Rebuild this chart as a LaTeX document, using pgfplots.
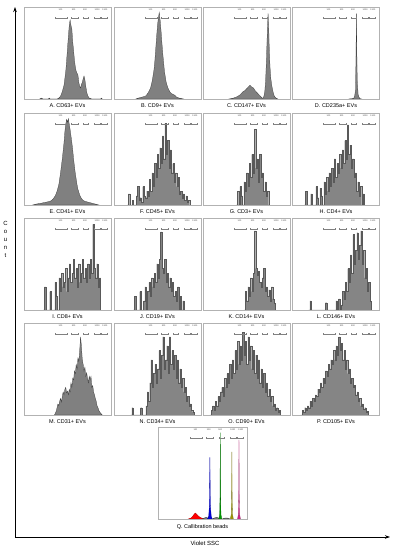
\documentclass[border=0pt]{standalone}
\usepackage{pgfplots}
\pgfplotsset{compat=1.18}
\usepackage{fontspec}
\setmainfont{Liberation Sans}
\usetikzlibrary{arrows.meta}
\pgfplotsset{
 panel/.style={width=87pt,height=92pt,scale only axis,xmin=0,xmax=100,ymin=0,ymax=100,
   ticks=none,axis line style={gray!60,line width=0.6pt},anchor=north west},
 hist/.style={fill=black!50,draw=black!80,line width=0.25pt,mark=none},
 spk/.style={fill=black!48,draw=black!65,line width=0.2pt,mark=none,const plot},
 bead/.style={fill=#1,draw=#1!70!black,line width=0.3pt,mark=none}
}
\newcommand{\gl}{\fontsize{2.2}{2.2}\selectfont}
\newcommand{\ttl}{\fontsize{5.5}{6}\selectfont}
\tikzset{gate/.style={black!50,line width=0.25pt,{Bar[width=1.2pt]}-{Bar[width=1.2pt]}}}
\newcommand{\gates}{%
 \draw[gate] (axis cs:36,88) -- (axis cs:50,88);
 \draw[gate] (axis cs:54,88) -- (axis cs:62,88);
 \draw[gate] (axis cs:68,88) -- (axis cs:74,88);
 \draw[gate] (axis cs:81,88) -- (axis cs:88,88);
 \draw[gate] (axis cs:89,88) -- (axis cs:96,88);
 \node[font=\gl,black!70] at (axis cs:42,97) {100};
 \node[font=\gl,black!70] at (axis cs:57,97) {300};
 \node[font=\gl,black!70] at (axis cs:70,97) {500};
 \node[font=\gl,black!70] at (axis cs:84,97) {1000};
 \node[font=\gl,black!70] at (axis cs:93,97) {1300};
}
\begin{document}
\begin{tikzpicture}
\path[use as bounding box] (0pt,0pt) rectangle (394pt,550pt);
% big axes
\draw[line width=0.8pt,-{Stealth[length=5pt,width=3.5pt]}] (15pt,13pt) -- (15pt,543pt);
\draw[line width=0.8pt,-{Stealth[length=5pt,width=3.5pt]}] (15pt,13pt) -- (390pt,13pt);
\node[font=\fontsize{6}{8}\selectfont,align=center] at (5.5pt,311pt) {C\\o\\u\\n\\t};
\node[font=\fontsize{6}{7}\selectfont] at (205pt,7pt) {Violet SSC};

% ---------- Row 1 ----------
\begin{axis}[panel,at={(24pt,543pt)}]
\addplot[hist] coordinates {(18,0)(20,1)(22,0)(28,0)(29,1)(30,0)(38,0)(40,1)(42,3)(44,8)(46,15)(48,30)(49,42)(50,55)(51,68)(52,80)(53,86)(54,80)(55,76)(56,62)(57,53)(58,42)(59,35)(60,30)(61,28)(62,26)(63,18)(64,14)(65,12)(66,16)(67,18)(68,22)(69,25)(70,21)(71,14)(72,8)(73,4)(75,1)(78,0)(88,0)(89,1)(90,0)} \closedcycle;
\gates
\end{axis}
\node[font=\ttl] at (67.5pt,444.5pt) {A. CD63+ EVs};

\begin{axis}[panel,at={(114pt,543pt)}]
\addplot[hist] coordinates {(25,0)(28,1)(32,2)(36,3)(38,5)(40,8)(42,12)(44,20)(46,32)(47,42)(48,55)(49,68)(50,80)(51,88)(52,94)(53,86)(54,75)(55,62)(56,50)(57,40)(58,30)(59,24)(60,18)(62,12)(64,8)(66,6)(68,5)(70,4)(72,2)(75,1)(80,0)} \closedcycle;
\gates
\end{axis}
\node[font=\ttl] at (157.5pt,444.5pt) {B. CD9+ EVs};

\begin{axis}[panel,at={(203pt,543pt)}]
\addplot[hist] coordinates {(30,0)(35,1)(38,2)(40,3)(42,4)(44,6)(46,8)(48,9)(50,11)(52,13)(54,15)(55,14)(56,13)(58,12)(60,9)(62,7)(64,5)(66,3)(67,2)(68,1)(69,1)(70,3)(71,8)(72,20)(73,45)(74,75)(74.8,93)(75.5,80)(76,60)(77,35)(78,22)(79,15)(80,10)(81,6)(82,3)(84,1)(86,0)} \closedcycle;
\gates
\end{axis}
\node[font=\ttl] at (246.5pt,444.5pt) {C. CD147+ EVs};

\begin{axis}[panel,at={(292pt,543pt)}]
\addplot[hist] coordinates {(65,0)(70,0.5)(71,1)(72,3)(73,10)(73.5,40)(74,93)(74.5,50)(75,20)(76,5)(77,2)(78,0.5)(80,0)} \closedcycle;
\gates
\end{axis}
\node[font=\ttl] at (336pt,444.5pt) {D. CD235a+ EVs};

% ---------- Row 2 ----------
\begin{axis}[panel,at={(24pt,437pt)}]
\addplot[hist] coordinates {(10,0)(14,1)(20,2)(25,3)(30,4)(33,6)(36,10)(38,15)(40,22)(42,35)(44,50)(46,68)(47,80)(48,88)(49,93)(50,90)(51,94)(52,88)(53,82)(54,75)(55,68)(56,60)(57,50)(58,42)(59,34)(60,28)(61,22)(62,17)(64,11)(66,7)(68,5)(70,4)(74,3)(78,2)(82,1)(86,0)} \closedcycle;
\gates
\end{axis}
\node[font=\ttl] at (67.5pt,338.5pt) {E. CD41+ EVs};

\begin{axis}[panel,at={(114pt,437pt)}]
\addplot[spk] coordinates {(15,0)(16.5,12)(18,0)(19.5,0)(21,5)(22.5,0)(24,0)(25.5,10)(27,20)(28.5,5)(30,8)(31.5,3)(33,20)(34.5,10)(36,8)(37.5,15)(39,10)(40.5,28)(42,15)(43.5,35)(45,20)(46.5,45)(48,30)(49.5,55)(51,40)(52.5,62)(54,45)(55.5,75)(57,50)(58.5,89)(60,55)(61.5,70)(63,40)(64.5,60)(66,35)(67.5,45)(69,25)(70.5,35)(72,20)(73.5,30)(75,12)(76.5,15)(78,8)(79.5,12)(81,5)(82.5,10)(84,3)(85.5,5)(87,0)} \closedcycle;
\gates
\end{axis}
\node[font=\ttl] at (157.5pt,338.5pt) {F. CD45+ EVs};

\begin{axis}[panel,at={(203pt,437pt)}]
\addplot[spk] coordinates {(38,0)(39.5,15)(41,0)(42.5,20)(44,10)(45.5,0)(47,25)(48.5,15)(50,35)(51.5,20)(53,45)(54.5,30)(56,55)(57.5,35)(59,82)(60.5,40)(62,50)(63.5,25)(65,55)(66.5,30)(68,35)(69.5,15)(71,25)(72.5,10)(74,15)(75.5,0)(77,0)} \closedcycle;
\gates
\end{axis}
\node[font=\ttl] at (246.5pt,338.5pt) {G. CD3+ EVs};

\begin{axis}[panel,at={(292pt,437pt)}]
\addplot[spk] coordinates {(14,0)(15.5,15)(17,0)(20,0)(21.5,12)(23,0)(26,0)(27.5,20)(29,8)(30.5,0)(32,18)(33.5,10)(35,0)(36.5,25)(38,12)(39.5,30)(41,15)(42.5,35)(44,20)(45.5,40)(47,25)(48.5,50)(50,30)(51.5,45)(53,35)(54.5,55)(56,40)(57.5,60)(59,45)(60.5,70)(62,50)(63.5,87)(65,55)(66.5,65)(68,40)(69.5,50)(71,30)(72.5,35)(74,15)(75.5,25)(77,10)(78.5,20)(80,0)(81.5,12)(83,0)} \closedcycle;
\gates
\end{axis}
\node[font=\ttl] at (336pt,338.5pt) {H. CD4+ EVs};

% ---------- Row 3 ----------
\begin{axis}[panel,at={(24pt,332pt)}]
\addplot[spk] coordinates {(22,0)(23.5,25)(25,0)(28,0)(29.5,20)(31,0)(34,0)(35.5,30)(37,15)(38.5,0)(40,35)(41.5,20)(43,40)(44.5,25)(46,30)(47.5,45)(49,20)(50.5,35)(52,50)(53.5,30)(55,40)(56.5,55)(58,35)(59.5,45)(61,25)(62.5,50)(64,30)(65.5,40)(67,55)(68.5,35)(70,45)(71.5,30)(73,50)(74.5,35)(76,55)(77.5,40)(79,93)(80.5,45)(82,35)(83.5,50)(85,25)(86.5,35)(88,0)} \closedcycle;
\gates
\end{axis}
\node[font=\ttl] at (67.5pt,233.5pt) {I. CD8+ EVs};

\begin{axis}[panel,at={(114pt,332pt)}]
\addplot[spk] coordinates {(22,0)(23.5,15)(25,0)(28,0)(29.5,20)(31,0)(34,10)(35.5,25)(37,0)(38.5,20)(40,30)(41.5,15)(43,35)(44.5,25)(46,40)(47.5,30)(49,50)(50.5,35)(52,55)(53.5,85)(55,45)(56.5,40)(58,55)(59.5,30)(61,40)(62.5,25)(64,35)(65.5,20)(67,30)(68.5,15)(70,20)(71.5,10)(73,25)(74.5,0)(76,15)(77.5,0)(79,10)(80.5,0)} \closedcycle;
\gates
\end{axis}
\node[font=\ttl] at (157.5pt,233.5pt) {J. CD19+ EVs};

\begin{axis}[panel,at={(203pt,332pt)}]
\addplot[spk] coordinates {(47,0)(48.5,20)(50,10)(51.5,25)(53,15)(54.5,35)(56,20)(57.5,40)(59,86)(60.5,45)(62,38)(63.5,42)(65,30)(66.5,25)(68,35)(69.5,45)(71,20)(72.5,25)(74,15)(75.5,22)(77,10)(78.5,25)(80,12)(81.5,8)(83,0)} \closedcycle;
\gates
\end{axis}
\node[font=\ttl] at (246.5pt,233.5pt) {K. CD14+ EVs};

\begin{axis}[panel,at={(292pt,332pt)}]
\addplot[spk] coordinates {(19,0)(20.5,10)(22,0)(37,0)(38.5,8)(40,0)(49,0)(50.5,10)(52,0)(53.5,12)(55,0)(56.5,5)(58,20)(59.5,12)(61,30)(62.5,20)(64,45)(65.5,30)(67,60)(68.5,40)(70,82)(71.5,50)(73,65)(74.5,84)(76,55)(77.5,70)(79,86)(80.5,50)(82,65)(83.5,35)(85,45)(86.5,20)(88,30)(89.5,10)(91,0)} \closedcycle;
\gates
\end{axis}
\node[font=\ttl] at (336pt,233.5pt) {L. CD146+ EVs};

% ---------- Row 4 ----------
\begin{axis}[panel,at={(24pt,227pt)}]
\addplot[hist] coordinates {(35,0)(37,4)(38,8)(39,12)(40,10)(41,15)(42,18)(43,14)(44,20)(45,25)(46,22)(47,28)(48,30)(49,24)(50,26)(51,22)(52,28)(53,25)(54,35)(55,30)(56,40)(57,38)(58,48)(59,45)(60,55)(61,50)(62,62)(63,58)(64,70)(65,85)(66,75)(67,60)(68,55)(69,48)(70,52)(71,42)(72,46)(73,40)(74,35)(75,42)(76,38)(77,42)(78,30)(79,32)(80,25)(81,22)(82,18)(83,15)(84,10)(85,8)(86,5)(88,2)(90,0)} \closedcycle;
\gates
\end{axis}
\node[font=\ttl] at (67.5pt,128.5pt) {M. CD31+ EVs};

\begin{axis}[panel,at={(114pt,227pt)}]
\addplot[spk] coordinates {(19,0)(20.5,8)(22,0)(29,0)(30.5,8)(32,0)(35,0)(36.5,10)(38,25)(39.5,15)(41,35)(42.5,60)(44,30)(45.5,45)(47,55)(48.5,35)(50,50)(51.5,70)(53,40)(54.5,65)(56,85)(57.5,50)(59,60)(60.5,75)(62,45)(63.5,85)(65,55)(66.5,70)(68,50)(69.5,65)(71,40)(72.5,60)(74,35)(75.5,50)(77,30)(78.5,40)(80,25)(81.5,30)(83,15)(84.5,20)(86,10)(87.5,12)(89,5)(90.5,3)(92,0)} \closedcycle;
\gates
\end{axis}
\node[font=\ttl] at (157.5pt,128.5pt) {N. CD34+ EVs};

\begin{axis}[panel,at={(203pt,227pt)}]
\addplot[spk] coordinates {(8,0)(9.5,5)(11,10)(12.5,5)(14,15)(15.5,10)(17,20)(18.5,15)(20,25)(21.5,30)(23,20)(24.5,40)(26,30)(27.5,45)(29,35)(30.5,55)(32,40)(33.5,60)(35,45)(36.5,70)(38,50)(39.5,80)(41,55)(42.5,75)(44,60)(45.5,90)(47,65)(48.5,80)(50,55)(51.5,85)(53,60)(54.5,75)(56,50)(57.5,70)(59,45)(60.5,65)(62,40)(63.5,60)(65,35)(66.5,50)(68,30)(69.5,45)(71,25)(72.5,35)(74,20)(75.5,28)(77,15)(78.5,20)(80,10)(81.5,12)(83,5)(84.5,8)(86,3)(87.5,5)(89,0)} \closedcycle;
\gates
\end{axis}
\node[font=\ttl] at (246.5pt,128.5pt) {O. CD90+ EVs};

\begin{axis}[panel,at={(292pt,227pt)}]
\addplot[spk] coordinates {(10,0)(11.5,5)(13,3)(14.5,8)(16,5)(17.5,10)(19,8)(20.5,15)(22,10)(23.5,18)(25,15)(26.5,22)(28,20)(29.5,28)(31,25)(32.5,35)(34,30)(35.5,40)(37,35)(38.5,48)(40,42)(41.5,55)(43,50)(44.5,60)(46,55)(47.5,70)(49,60)(50.5,75)(52,65)(53.5,85)(55,70)(56.5,78)(58,60)(59.5,70)(61,50)(62.5,60)(64,45)(65.5,50)(67,35)(68.5,40)(70,30)(71.5,32)(73,22)(74.5,25)(76,15)(77.5,18)(79,10)(80.5,12)(82,6)(83.5,8)(85,3)(86.5,4)(88,0)} \closedcycle;
\gates
\end{axis}
\node[font=\ttl] at (336pt,128.5pt) {P. CD105+ EVs};

% ---------- Q ----------
\begin{axis}[panel,width=89pt,at={(158pt,123pt)}]
\addplot[bead=red] coordinates {(34,0)(37,1)(39,3)(40.5,5)(42,6.5)(43.5,5)(45,3.5)(47,2)(49,1)(51,0.5)(53,0)} \closedcycle;
\addplot[hist] coordinates {(50,0)(52,1)(54,2)(56,1)(57,0)(61,0)(63,1)(66,2)(68,1)(69,0)(72,0)(75,1)(78,1)(81,0)} \closedcycle;
\addplot[bead=blue!85!black] coordinates {(55.5,0)(57,3)(57.8,15)(58.3,67)(58.8,15)(59.8,3)(61,0)} \closedcycle;
\addplot[bead=green!60!black] coordinates {(68.3,0)(69.3,5)(69.7,25)(70,94)(70.3,25)(70.7,5)(71.7,0)} \closedcycle;
\addplot[bead=olive!85!yellow] coordinates {(81.3,0)(82.3,5)(82.7,22)(83,73)(83.3,22)(83.7,5)(84.7,0)} \closedcycle;
\addplot[bead=magenta!85!black] coordinates {(89.3,0)(90.3,5)(90.7,25)(91,86)(91.3,25)(91.7,5)(92.7,0)} \closedcycle;
\gates
\end{axis}
\node[font=\ttl] at (202.5pt,23pt) {Q. Callibration beads};
\end{tikzpicture}
\end{document}
